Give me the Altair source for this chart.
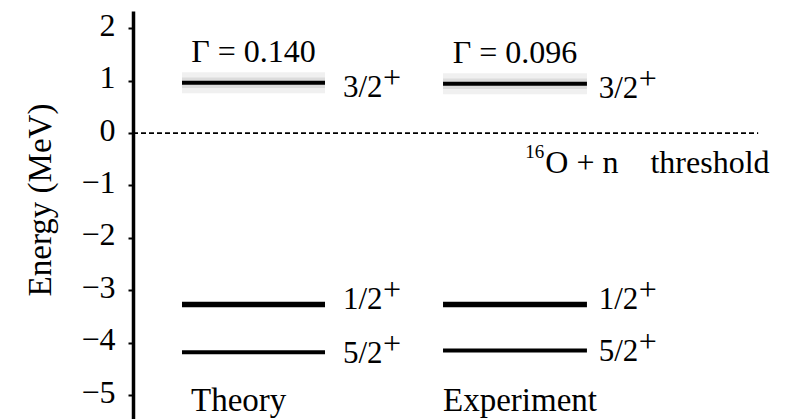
import altair as alt
import pandas as pd

# Low-lying levels of 17O, energies in MeV relative to the 16O + n threshold
spins = ["3/2", "1/2", "5/2"]
theory_energy = [0.96, -3.27, -4.18]
experiment_energy = [0.94, -3.27, -4.15]
columns = ["Theory", "Experiment"]
resonance_width = {"Theory": "0.140", "Experiment": "0.096"}
tick_values = [-5, -4, -3, -2, -1, 0, 1, 2]
threshold_energy = [0.0]
threshold_text = "O + n\u00a0\u00a0\u00a0\u00a0threshold"
threshold_mass = "16"

# Horizontal layout, in percent of the plot width
col_x0 = {"Theory": 7.47, "Experiment": 47.26}
col_x1 = {"Theory": 29.27, "Experiment": 69.2}
label_x = {"Theory": 32.0, "Experiment": 71.0}
caption_x = {"Theory": 8.84, "Experiment": 47.26}
caption_energy = -5.3
threshold_x_end = 95.3
threshold_label_x = 59.8

# Styling per level
line_width = {"3/2": 4, "1/2": 5.5, "5/2": 4}
label_dy = {"3/2": 14, "1/2": 4.5, "5/2": 10.5}

FONT = "Liberation Serif"

rows = []
for col, energies in zip(columns, [theory_energy, experiment_energy]):
    for s, e in zip(spins, energies):
        rows.append({
            "column": col, "spin": s, "energy": e,
            "x0": col_x0[col], "x1": col_x1[col],
            "xc": (col_x0[col] + col_x1[col]) / 2,
            "lx": label_x[col], "sw": line_width[s],
            "gamma": "\u0393 = " + resonance_width[col],
        })
levels = pd.DataFrame(rows)
captions = pd.DataFrame({"name": columns, "x": [caption_x[c] for c in columns],
                         "energy": [caption_energy] * len(columns)})
threshold = pd.DataFrame({"energy": threshold_energy, "x0": [0.0],
                          "x1": [threshold_x_end], "lx": [threshold_label_x],
                          "txt": [threshold_text], "mass": [threshold_mass]})

xscale = alt.Scale(domain=[0, 100], nice=False, zero=False)
yscale = alt.Scale(domain=[-5.456, 2.33], nice=False, zero=False)

yaxis = alt.Axis(values=tick_values, format="d", grid=False,
                 domainColor="black", domainWidth=3.5,
                 tickColor="black", tickWidth=2, tickSize=5,
                 labelFont=FONT, labelFontSize=32, labelColor="black",
                 labelPadding=13, labelOffset=-3, labelOverlap=False,
                 titleFont=FONT, titleFontSize=33,
                 titleFontWeight="normal", titleColor="black",
                 titleAngle=270, titleAlign="center",
                 titleBaseline="middle", titleX=-93, titleY=188.5)


def X(field):
    return alt.X(f"{field}:Q", scale=xscale, axis=None)


def Y(field):
    return alt.Y(f"{field}:Q", scale=yscale, axis=yaxis, title="Energy (MeV)")


base = alt.Chart(levels)
resonant = base.transform_filter(alt.datum.spin == "3/2")

# Broadened band around the unbound 3/2+ resonance
band_outer = resonant.transform_calculate(
    hi="datum.energy + 0.2", lo="datum.energy - 0.2"
).mark_rect(color="#f0f0f0").encode(x=X("x0"), x2="x1", y=Y("hi"), y2="lo")
band_inner = resonant.transform_calculate(
    hi="datum.energy + 0.1", lo="datum.energy - 0.1"
).mark_rect(color="#dcdcdc").encode(x=X("x0"), x2="x1", y=Y("hi"), y2="lo")

level_lines = base.mark_rule(color="black").encode(
    x=X("x0"), x2="x1", y=Y("energy"),
    strokeWidth=alt.StrokeWidth("sw:Q", scale=None),
)

spin_layers = []
for s in spins:
    sub = base.transform_filter(alt.datum.spin == s)
    spin_layers.append(sub.mark_text(
        align="left", baseline="alphabetic", dy=label_dy[s],
        font=FONT, fontSize=31, color="black"
    ).encode(x=X("lx"), y=Y("energy"), text="spin:N"))
    spin_layers.append(sub.mark_text(
        align="left", baseline="alphabetic", dx=40, dy=label_dy[s] - 9,
        font=FONT, fontSize=32, color="black", text="+"
    ).encode(x=X("lx"), y=Y("energy")))

gamma_text = resonant.mark_text(
    align="center", baseline="alphabetic", dy=-21,
    font=FONT, fontSize=32, color="black"
).encode(x=X("xc"), y=Y("energy"), text="gamma:N")

tbase = alt.Chart(threshold)
threshold_line = tbase.mark_rule(
    color="black", strokeWidth=1.6, strokeDash=[5, 3]
).encode(x=X("x0"), x2="x1", y=Y("energy"))
threshold_mass_text = tbase.mark_text(
    align="left", baseline="alphabetic", dy=25,
    font=FONT, fontSize=19, color="black"
).encode(x=X("lx"), y=Y("energy"), text="mass:N")
threshold_label = tbase.mark_text(
    align="left", baseline="alphabetic", dx=20, dy=40,
    font=FONT, fontSize=32, color="black"
).encode(x=X("lx"), y=Y("energy"), text="txt:N")

caption_text = alt.Chart(captions).mark_text(
    align="left", baseline="alphabetic", font=FONT, fontSize=33, color="black"
).encode(x=X("x"), y=Y("energy"), text="name:N")

chart = alt.layer(
    band_outer, band_inner, level_lines, *spin_layers, gamma_text,
    threshold_line, threshold_mass_text, threshold_label, caption_text,
).properties(
    width=656, height=408,
    padding={"left": 133, "top": 11, "right": 0, "bottom": 0},
    autosize=alt.AutoSizeParams(type="none"),
    background="white",
).configure_view(stroke=None)

chart.save("out.html", embed_options={"renderer": "svg", "actions": False})
